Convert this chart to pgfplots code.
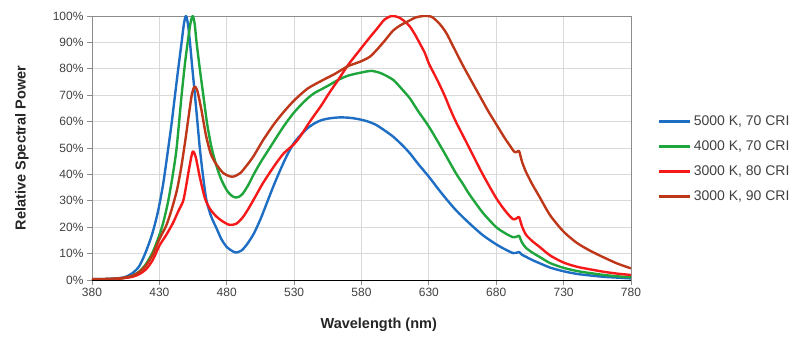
\documentclass[border=0pt]{standalone}
\usepackage{pgfplots}
\pgfplotsset{compat=1.18}
\usepackage{fontspec}
\setmainfont{Liberation Sans}
\definecolor{cblue}{RGB}{30,110,195}
\definecolor{cgreen}{RGB}{30,165,60}
\definecolor{cred}{RGB}{245,25,25}
\definecolor{cbrown}{RGB}{190,55,25}
\definecolor{gridc}{RGB}{217,217,217}
\definecolor{framec}{RGB}{140,140,140}
\definecolor{txt}{RGB}{64,64,64}
\begin{document}
\begin{tikzpicture}
\useasboundingbox (0,0) rectangle (800pt,338pt);
\begin{axis}[
  at={(92pt,58pt)}, anchor=south west,
  scale only axis, width=539pt, height=264pt,
  xmin=380, xmax=780, ymin=0, ymax=100,
  xtick={380,430,480,530,580,630,680,730,780},
  xticklabels={380,430,480,530,580,630,680,730,780},
  ytick={0,10,20,30,40,50,60,70,80,90,100},
  yticklabels={0\%,10\%,20\%,30\%,40\%,50\%,60\%,70\%,80\%,90\%,100\%},
  xtick pos=lower, ytick pos=left,
  tick align=outside, major tick length=5pt,
  tick style={framec, line width=0.8pt},
  grid=major, major grid style={gridc, line width=0.8pt},
  axis line style={framec, line width=0.9pt},
  tick label style={font=\fontsize{12}{14}\selectfont, text=txt},
  xlabel={Wavelength (nm)}, ylabel={Relative Spectral Power},
  label style={font=\fontsize{14.5}{17}\selectfont\bfseries, text=black!85},
  xlabel style={at={(axis description cs:0.532,-0.17)}, anchor=center},
  ylabel style={at={(axis description cs:-0.13,0.5)}, anchor=center},
  legend style={at={(axis description cs:1.050,0.4576)}, anchor=west,
    draw=none, fill=none, inner sep=0pt, row sep=12pt, column sep=2pt,
    font=\fontsize{14}{16}\selectfont, text=txt,
    nodes={inner sep=0pt, text height=10pt, text depth=3pt}},
  legend cell align=left,
  legend image code/.code={\draw[#1, line width=2.6pt] (0pt,0pt) -- (31pt,0pt);},
  every axis plot/.append style={line width=2.4pt, line join=round, smooth, tension=0.45},
]
\addplot[cblue] coordinates {
(380,0.4)(390,0.4)(400,0.7)(405,1.2)(410,2.6)(415,5.2)(420,10.7)(425,18)(429.2,26.5)(433,37)(436.6,50)(439,59)(441.6,70)(444,80)(446.5,90)(448.2,97)(449.7,100)(451.2,97)(452.7,90)(454.5,80)(456.4,70)(458.2,60)(460,50)(462.5,39)(465,30)(468.5,24)(472.5,19.5)(476,15.5)(480,12.5)(484,11)(487,10.4)(491,11.2)(495,13.5)(500,17.5)(505,23)(510,29.5)(515,36)(520,42)(525,47.5)(530,52)(535,55)(540,57.5)(545,59.3)(550,60.5)(556,61.2)(564,61.6)(572,61.4)(579,60.8)(585,60)(591,58.7)(597,56.7)(603.5,54.3)(610,51.2)(615.9,48)(622,44)(630,39.1)(640,32.5)(650,26.5)(660,21.5)(670,17)(680,13.5)(687,11.5)(692.5,10.2)(695.5,10.4)(697,10.6)(699,9.6)(702,8.8)(707,7.5)(712,6.4)(720,4.7)(730,3.3)(740,2.3)(750,1.7)(760,1.2)(770,0.9)(780,0.6)};
\addlegendentry{5000 K, 70 CRI}
\addplot[cgreen] coordinates {
(380,0.3)(390,0.3)(400,0.5)(405,0.9)(410,1.6)(415,3.2)(420,6)(425,10.5)(430,17)(433,22)(436.6,30)(440,40)(442.8,50)(446.5,70)(449,82)(451,90)(453,97)(454.7,100)(456.2,97)(457.6,90)(460,80)(462.6,70)(465.5,59)(468.8,50)(472.5,43)(476,38)(480,34)(483,32.2)(486,31.3)(489,31.5)(492,32.8)(496,36)(500,40)(505,44.5)(510,48.5)(515,52.5)(520,56.5)(525,60.2)(530,63.5)(535,66.3)(540,68.8)(545,70.8)(551.6,72.6)(556.6,74)(562.7,75.8)(570,77.4)(579,78.5)(587.5,79.2)(595,78.2)(603.5,75.8)(610,72.3)(615.9,68.8)(622,64)(630,58.1)(640,49.5)(650,40.5)(655,36.6)(660,32.5)(670,25.5)(680,20)(687,17.6)(692.5,16.2)(695.5,16.5)(697,16.7)(699,14.3)(702,12.2)(707,10.3)(712,8.8)(720,6.4)(730,4.6)(740,3.4)(750,2.6)(760,1.9)(770,1.4)(780,1.0)};
\addlegendentry{4000 K, 70 CRI}
\addplot[cred] coordinates {
(380,0.3)(390,0.3)(400,0.5)(405,0.8)(410,1.2)(415,2.2)(420,4)(425,7.5)(430,13)(435,17)(440,21.5)(444,26)(447.7,30)(450,36)(452,42)(454.7,48.6)(457,46.5)(460,39)(463.8,31)(467.5,27)(472,24.2)(477,22.2)(482,20.9)(487,21.3)(492,23.8)(497,27.8)(502,32.3)(507,36.8)(515,43)(522,47.8)(530,51.5)(534.4,54.3)(541.7,60)(550,66)(556,70.8)(562.7,75.8)(570,81.4)(579,87.3)(586,91.8)(592,95.5)(597,98.6)(602.3,100)(607,99.6)(611,98.4)(615.9,96)(620,92.7)(623.3,89.6)(627,86)(630,82)(634,78)(638,73.9)(642,69.5)(645.6,65)(650,60)(655,55)(662,48)(670,40)(680,31)(687,26)(692.5,23)(695.5,23.5)(697,23.8)(699,20.5)(702,17.2)(707,14.6)(712,12.6)(720,9.3)(730,6.6)(740,5.0)(750,4.0)(760,3.1)(770,2.4)(780,1.9)};
\addlegendentry{3000 K, 80 CRI}
\addplot[cbrown] coordinates {
(380,0.4)(390,0.4)(400,0.6)(405,1)(410,1.6)(415,3)(420,5.5)(425,9.5)(430,15.5)(435,20.5)(439,26.5)(443,34)(446,42)(449,52)(452,63)(454,70)(456,73.2)(458,72)(461,65)(464.5,55)(468,48)(472,44)(477.5,40.5)(484,39.1)(490,40.5)(495,43.5)(500,47)(507,53)(515,59)(522,63.5)(530,68)(540,72.5)(551.6,75.8)(560,78)(570,81)(579,82.7)(586,84.5)(591,87)(597,90.5)(603.5,94.5)(609,96.5)(614.6,98)(620,99.4)(625.8,100)(632,99.7)(638,97)(643,93.5)(648,88.5)(655,81.5)(662,75)(668,69.5)(674,64)(680,59)(686,54)(690,51)(693.5,48.5)(695.5,48.6)(697,48.8)(699,45)(702,41)(707,36)(712,31.6)(720,24.5)(730,18.3)(740,14)(750,11)(760,8.5)(770,6.2)(780,4.4)};
\addlegendentry{3000 K, 90 CRI}
\draw[black, line width=1pt] (rel axis cs:0,0) -- (rel axis cs:1,0);
\end{axis}
\end{tikzpicture}
\end{document}
